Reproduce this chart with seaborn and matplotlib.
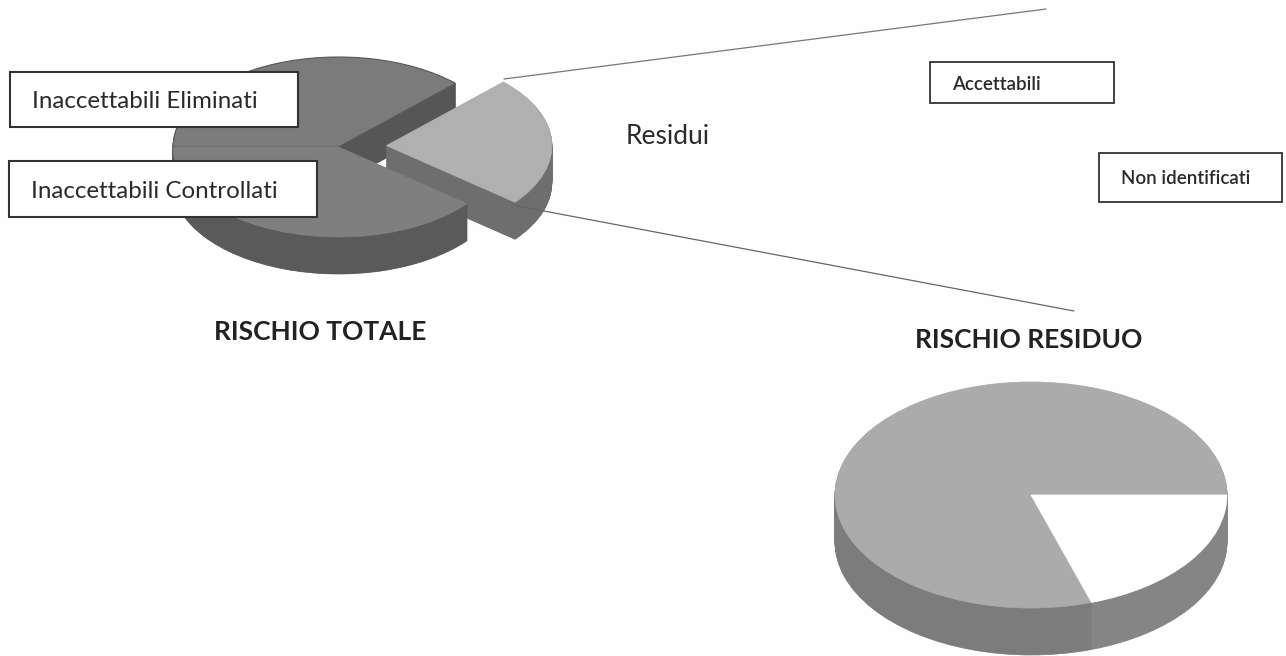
import matplotlib
matplotlib.use("Agg")
import matplotlib.pyplot as plt
from matplotlib.patches import Rectangle
import seaborn as sns

sns.set_theme(style="white")
plt.rcParams['font.family'] = ['Lato', 'DejaVu Sans']

W, H = 1286, 656

# slice sizes (degrees of the disc)
totale_labels = ["Residui", "Inaccettabili Eliminati", "Inaccettabili Controllati"]
totale_values = [84, 135, 141]
totale_explode = [0.29, 0, 0]
residuo_labels = ["Accettabili", "Non identificati"]
residuo_values = [288, 72]

totale_top = ["#b0b0b0", "#7b7b7b", "#7f7f7f"]
totale_rim = ["#6e6e6e", "#565656", "#5a5a5a"]
residuo_top = ["#ababab", "#ffffff"]
residuo_rim = ["#7c7c7c", "#858585"]


def pie_axes(fig, cx, cy, rx, ry, pad):
    # axes placed in pixels so that one data unit = rx across and ry down
    ax = fig.add_axes([(cx - rx * pad) / W, 1 - (cy + ry * pad) / H,
                       2 * rx * pad / W, 2 * ry * pad / H])
    return ax


def seal(wedges):
    # seaborn's white wedge edges would show as seams
    for w in wedges:
        w.set_edgecolor(w.get_facecolor())
        w.set_linewidth(0.5)


def disc(ax, values, explode, start, top, rim, depth, steps=60, pad=1.6):
    for i in range(steps, 0, -1):
        wedges, _ = ax.pie(values, explode=explode, startangle=start, radius=1,
                           center=(0, -depth * i / steps), colors=rim)
        seal(wedges)
    wedges, _ = ax.pie(values, explode=explode, startangle=start, radius=1, colors=top)
    seal(wedges)
    ax.set_aspect("auto")
    ax.set_xlim(-pad, pad)
    ax.set_ylim(-pad, pad)
    ax.axis("off")
    ax.patch.set_alpha(0)
    return wedges


fig = plt.figure(figsize=(W / 100, H / 100), dpi=100, facecolor="#fefefe")

# left pie
ax1 = pie_axes(fig, 338.5, 147, 165.5, 90, 1.6)
w1 = disc(ax1, totale_values, totale_explode, -39, totale_top, totale_rim, 37 / 90)
w1[1].set_edgecolor("#5a5a5a")
w1[1].set_linewidth(0.8)

# right pie
ax2 = pie_axes(fig, 1031, 495, 196, 113, 1.6)
disc(ax2, residuo_values, None, 0, residuo_top, residuo_rim, 47 / 113)

# overlay in pixel coordinates for the callouts and text
ov = fig.add_axes([0, 0, 1, 1])
ov.set_xlim(0, W)
ov.set_ylim(H, 0)
ov.axis("off")
ov.patch.set_alpha(0)

ov.plot([504, 1046], [79, 9], color="#777777", lw=0.9)
ov.plot([512, 1074], [205, 311], color="#666666", lw=0.9)

boxes = [
    (10, 72, 288, 55, totale_labels[1], 32, 102, 17.4, "normal", 1.5),
    (9, 161, 308, 56, totale_labels[2], 31, 192, 17.4, "normal", 1.5),
    (930, 62, 184, 41, residuo_labels[0], 952, 84, 13.5, "semibold", 1.3),
    (1099, 153, 183, 49, residuo_labels[1], 1121, 178, 13.5, "semibold", 1.3),
]
for x, y, w, h, txt, tx, ty, fs, weight, lw in boxes:
    ov.add_patch(Rectangle((x, y), w, h, fc="white", ec="#333333", lw=lw))
    ov.text(tx, ty, txt, fontsize=fs, color="#2a2a2a", va="center", weight=weight)

ov.text(668, 137, totale_labels[0], fontsize=19, color="#2a2a2a", ha="center", va="center")
ov.text(320, 332, "RISCHIO TOTALE", fontsize=19, weight="bold", color="#222222", ha="center", va="center")
ov.text(1029, 340, "RISCHIO RESIDUO", fontsize=19, weight="bold", color="#222222", ha="center", va="center")

fig.savefig("out.png", dpi=100, facecolor=fig.get_facecolor())
